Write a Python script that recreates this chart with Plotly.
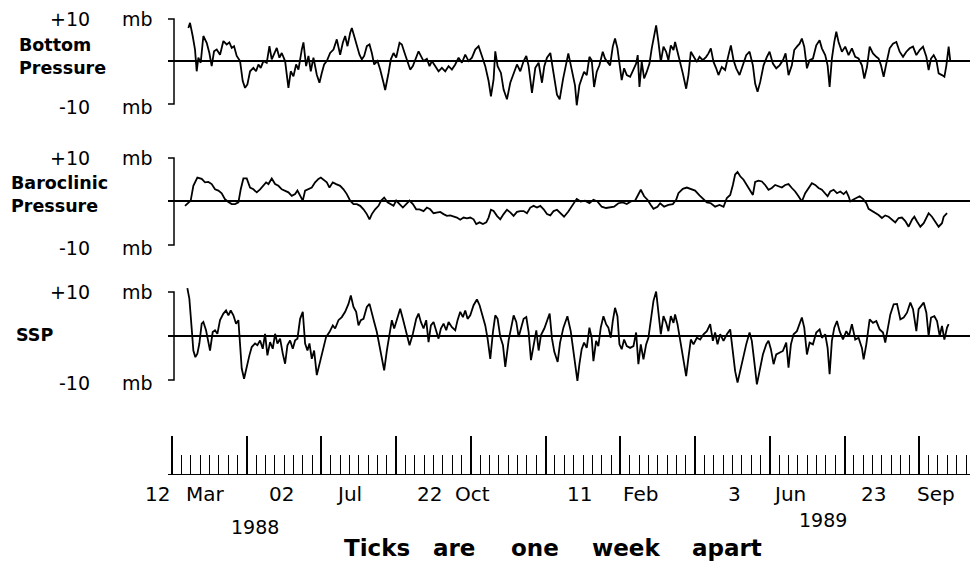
import pandas as pd
import plotly.graph_objects as go

# ---------------- data (days since START, values in mb) ----------------
START = "1988-03-12"

BOTTOM_DAYS = [
    12.25, 13.5, 15.5, 17.25, 18.5, 19.75, 21.5, 23.5, 26, 28,
    29.75, 31.5, 33.5, 36, 38.5, 41, 43, 44.75, 46.5, 48.5,
    51, 53, 54.75, 56.5, 58.5, 61, 63, 64.75, 66.5, 68.5,
    71, 73, 74.75, 76.5, 78.5, 80.5, 82.25, 84.75, 87.25, 89,
    91, 93, 94.75, 97.25, 98.5, 100.5, 102.25, 104, 106, 108.5,
    110.5, 112.25, 114, 116, 118.5, 121, 123.5, 126, 128, 129.75,
    131.5, 133.5, 134.75, 136.5, 138.5, 140.5, 142.25, 144, 146, 148,
    149.75, 151.5, 154, 156, 158.5, 159.75, 162.25, 164, 166, 168,
    170.5, 172.25, 174.75, 176.5, 178.5, 180.5, 182.25, 184.75, 186.5, 188.5,
    191, 193, 194.75, 197.25, 199.75, 202.25, 204.75, 207.25, 209.75, 212.25,
    214.75, 217.25, 219.75, 222.25, 224.75, 227.25, 229.75, 232.25, 234.75, 237.25,
    239, 241, 242.25, 244, 246.5, 248.5, 251, 253.5, 256, 258.5,
    261, 263.5, 265.5, 267.25, 269.75, 272.25, 274.75, 277.25, 279, 281,
    283.5, 286, 288.5, 290.5, 293,
    297, 299.5, 302, 303.3, 305.3, 307, 308.8, 310.8, 312.8, 314.5,
    316.3, 318.3, 320.3, 322.8, 324.5, 326.3, 328.3, 330.3, 332, 333.8,
    335.8, 337, 338.8, 340.8, 343.3, 345.8, 347.8, 349, 350.3, 352,
    353.8, 355.8, 357.8, 359.5, 361.3, 362.8, 364.5, 366.3, 368.3, 370.3,
    372, 373.8, 375.8, 377, 378.8, 380.8, 382.8, 385.3, 387, 388.8,
    390.8, 393.3, 395.3, 397.8, 400.3, 402, 403.8, 405.8, 407.8, 409.5,
    412, 414.5, 417, 418.8, 420.8, 422.8, 425.3, 427.8, 430.3, 432.8,
    435.3, 437, 438.8, 440.8, 443.3, 445.8, 447.8, 450.3, 452.8, 455.3,
    457.8, 459.8, 462, 464.5, 466.3, 468.3, 470.3, 472, 473.8, 475.8,
    477.8, 480.3, 482.8, 485.3, 487, 489.5, 491.3, 492.8, 494.5, 496.3,
    497.8, 499.5, 502, 504.5, 507, 509.5, 512, 514.5, 517, 518.8,
    520.8, 522.8, 525.3, 527.8, 529.5, 531.3, 533.3, 535.3, 537.8, 540.3,
    542.8, 545.3, 547.8, 550.3, 552.8, 555.3, 557.8, 560.3, 562.8, 565.3,
    567, 568.8, 570.8, 572.8, 574.5, 577, 578.8, 580.3, 582, 583.3,
]
BOTTOM_MB = [
    7.9, 9.1, 6.0, 2.8, -2.3, 0.9, -0.3, 6.0, 4.4, 2.0,
    -1.1, 2.4, 2.8, 1.6, 4.8, 4.0, 4.5, 3.2, 3.6, 1.3,
    0.1, -4.6, -6.2, -5.4, -2.3, -1.5, -2.3, -0.7, -1.5, 0.1,
    -0.3, 3.6, 0.5, 1.6, 3.2, 0.9, 2.0, 0.1, -6.2, -2.3,
    -3.5, -0.7, -1.9, 2.8, 4.5, -1.1, 1.3, -2.3, 0.9, -3.1,
    -5.0, -2.7, -0.7, 0.1, 2.0, 2.8, 5.2, 1.6, 4.4, 6.0,
    3.6, 6.7, 7.9, 6.0, 4.0, 1.6, 0.5, 1.3, 3.6, 4.0,
    2.0, -0.7, 0.1, -1.9, -5.0, -6.7, -2.7, 0.5, 2.0, 0.9,
    4.4, 4.0, 1.6, -0.3, -1.9, -1.1, 0.5, 2.4, 1.3, 0.1,
    0.6, -1.1, 0.1, -1.1, -2.3, -1.5, -2.3, -1.1, -1.9, -0.7,
    0.9, -0.3, 1.6, 0.1, 0.9, 2.8, 3.6, 1.3, -1.1, -4.6,
    -8.2, -4.2, 2.4, -1.1, -2.7, -6.6, -8.9, -5.0, -2.7, -0.7,
    -2.3, 0.1, 1.3, -1.1, -7.4, -1.5, -0.3, -5.0, -1.1, 0.9,
    2.0, -3.5, -7.8, -8.9, -4.2,
    1.9, -1.6, -5.6, -10.3, -5.6, -4.0, -2.4, -3.2, 1.1, 0.3,
    -6.0, -2.4, -0.9, 2.3, 0.7, -0.1, -0.9, 3.5, 5.4, 3.1,
    -0.9, -4.4, -1.6, -3.2, -3.6, -2.0, -0.5, 1.5, -6.0, -0.1,
    -4.0, -2.4, -0.5, 3.1, 6.6, 8.5, 4.6, -0.1, 3.5, 2.3,
    0.3, 3.8, 2.7, 4.6, 2.3, -0.1, -2.8, -6.4, -3.2, 2.3,
    1.1, -0.1, 1.1, 0.3, 1.1, 1.9, 3.1, -0.1, -1.6, -3.2,
    -1.3, -2.0, 1.5, 3.8, 0.3, -1.6, -3.2, -0.9, 1.5, 2.3,
    -0.9, -5.2, -7.1, -4.8, -0.9, 1.1, 2.3, -0.5, -1.6, -0.9,
    0.3, 1.9, -3.2, -0.9, 2.7, 3.5, 4.2, 5.4, 3.5, -1.6,
    0.3, 0.7, 3.8, 5.0, 3.1, 1.5, -0.9, -6.0, 0.7, 4.6,
    7.0, 4.6, 2.3, 3.5, 1.5, 3.1, 1.1, 0.7, -0.9, -4.0,
    -1.3, 3.5, 1.9, 1.1, 0.7, -0.9, -3.6, -0.5, 3.1, 4.2,
    4.6, 2.3, 1.1, 2.3, 3.1, 3.5, 1.5, 2.7, 3.5, 1.1,
    -2.0, 0.7, 1.5, 0.3, -2.8, -3.2, -3.6, -0.9, 3.5, -0.1,
]

BAROCLINIC_DAYS = [
    9.75, 12.25, 14, 16, 19, 22.25, 24.75, 27.25, 29.75, 32.25,
    34.75, 37.25, 39.75, 42.25, 44.75, 47.25, 49.75, 51.5, 53.5, 56,
    58.5, 61, 63.5, 66, 68.5, 70.5, 72.25, 74.75, 77.25, 79.75,
    82.25, 84.75, 87.25, 89.75, 92.25, 94, 96, 98, 99.75, 102.25,
    104.75, 107.25, 109.75, 111.5, 114, 116, 118, 120.5, 123, 126,
    128.5, 131, 133.5, 136, 138.5, 141, 143.5, 146, 148, 149.75,
    152.25, 154.75, 156.75, 159, 161.5, 164, 166, 168, 170.5, 173,
    175.5, 178, 180.5, 183, 185.5, 188.5, 191, 193.5, 196, 198.5,
    201, 203.5, 206, 208.5, 211, 213.5, 216, 218.5, 221, 223.5,
    226, 228, 230.5, 233, 235.5, 237.25, 239, 241, 243.5, 246,
    248.5, 251, 253.5, 256, 258.5, 261, 263.5, 266, 268.5, 271,
    273.5, 276, 278.5, 281, 283.5, 286, 288.5,
    290.8, 293.8, 297, 300.3, 303.3, 306.3, 309.5, 312.8, 315.8, 318.8,
    322, 325.3, 328.3, 331.3, 334.5, 337.8, 340.8, 343.8, 347, 349.5,
    351.3, 353.8, 356.3, 358.8, 360.8, 363.8, 365.8, 368.8, 372, 375.3,
    377.8, 379.5, 382.8, 385.8, 388.8, 392, 395.3, 398.3, 400.8, 403.8,
    407, 410.3, 413.3, 415.8, 418.3, 420.3, 422, 423.8, 425.8, 428.3,
    430.8, 433.3, 435.3, 437, 439.5, 442, 444.5, 447, 449.5, 452,
    454.5, 457, 459.5, 462, 464.5, 467, 469.5, 472, 474.5, 477,
    479.5, 482, 484.5, 487, 489.5, 491.3, 493.3, 495.8, 498.3, 500.8,
    503.3, 505.3, 507, 508.3, 510.3, 512.8, 515.3, 517.8, 520.3, 522,
    524.5, 527, 529.5, 532, 534.5, 537, 539.5, 542, 544.5, 547,
    549.5, 552, 554.5, 556.3, 558.3, 560.8, 563.3, 565.3, 567, 569.5,
    572, 574.5, 577, 578.3, 580.8,
]
BAROCLINIC_MB = [
    -1.0, -0.2, 0.2, 3.6, 5.5, 5.2, 4.4, 4.5, 4.0, 2.8,
    2.5, 1.9, 0.5, -0.1, -0.6, -0.6, -0.2, 2.8, 5.3, 5.3,
    3.2, 2.8, 2.1, 2.8, 3.6, 4.4, 4.0, 5.3, 4.0, 3.6,
    2.8, 2.5, 2.1, 1.3, 1.7, 2.5, 1.2, 0.2, 2.5, 2.8,
    3.2, 4.4, 5.2, 5.5, 4.8, 4.4, 3.2, 4.4, 4.0, 3.6,
    2.8, 1.7, 0.2, -0.6, -0.6, -1.0, -1.8, -2.9, -4.1, -2.9,
    -1.8, -1.0, 0.2, 0.9, -0.2, -0.6, -1.0, 0.2, -0.6, -1.4,
    -0.6, 0.2, -0.6, -1.8, -1.8, -2.2, -1.4, -1.8, -2.7, -2.5,
    -2.4, -2.9, -3.3, -3.2, -3.5, -3.7, -4.2, -3.7, -3.9, -3.7,
    -4.1, -5.2, -4.8, -5.2, -4.8, -3.7, -1.9, -2.2, -3.3, -4.1,
    -2.9, -1.9, -2.5, -3.3, -2.4, -2.2, -2.2, -2.7, -1.4, -1.0,
    -1.4, -1.0, -1.8, -2.9, -3.2, -2.2, -1.9,
    -2.5, -3.5, -2.3, -0.8, 0.6, 0.0, 0.2, -0.4, 0.4, 0.0,
    -1.2, -1.5, -1.4, -1.2, -0.4, -0.2, -0.6, 0.0, 0.2, 1.5,
    2.7, 1.2, 0.4, -0.8, -1.7, -1.2, -0.4, -1.2, -0.8, -0.6,
    0.4, 1.9, 2.9, 3.2, 2.9, 2.5, 1.4, 0.6, -0.2, -0.4,
    -1.2, -0.8, -1.2, 0.8, 1.5, 3.8, 6.2, 6.8, 5.8, 5.0,
    3.8, 2.3, 1.5, 4.5, 4.8, 4.6, 3.8, 2.7, 3.1, 3.8,
    3.5, 3.2, 3.8, 4.0, 3.1, 2.3, 1.2, 0.0, 1.9, 3.1,
    4.2, 3.8, 3.1, 2.7, 1.9, 1.2, 2.3, 2.7, 1.9, 2.3,
    1.7, 2.3, 1.2, 0.0, 0.4, 0.8, 1.2, 0.6, -0.4, -1.7,
    -2.2, -2.5, -3.1, -3.8, -3.2, -3.5, -4.2, -4.8, -3.8, -3.7,
    -4.5, -5.8, -4.2, -3.5, -4.6, -5.8, -5.0, -3.8, -2.7, -3.5,
    -4.6, -5.8, -5.0, -3.5, -2.7,
]

SSP_DAYS = [
    11.5, 13, 14.75, 16, 17.5, 19, 20.5, 22.25, 23.5, 25.5,
    27.25, 28.5, 30.5, 32.25, 34, 36, 38.5, 40.5, 42.25, 44,
    46, 48, 49.75, 51, 52.25, 54, 56, 58, 59.75, 62.25,
    64, 66, 68, 69.75, 71.5, 73.5, 75.5, 77.25, 79, 81,
    83, 84.75, 86.5, 88.5, 90.5, 92.25, 94, 96, 98, 99.75,
    101.5, 103, 104.75, 106.5, 108.5, 110.5, 113, 115.5, 118, 120.5,
    122.25, 124.75, 127.25, 129.75, 132.25, 134, 136, 138, 139.75, 141.5,
    143.5, 146, 148, 149.75, 151.5, 153.5, 155.5, 157.25, 159, 161,
    163, 164.75, 166.5, 168.5, 171, 173, 174.75, 176.5, 178, 180.5,
    183, 184.75, 186.5, 188.5, 190.5, 192.25, 194, 196, 198, 199.75,
    201.5, 203.5, 205.5, 207.25, 209.75, 212.25, 214, 216, 218, 219.75,
    221.5, 223.5, 226, 228.5, 230.5, 233, 234.75, 236.5, 238.5, 240.5,
    242.25, 244, 246, 248, 249.75, 252.25, 254, 256, 258, 259.75,
    261.5, 263.5, 265.5, 267.25, 269, 271, 273, 274.75, 276.5, 279,
    281, 283, 284.75, 286.5, 289,
    290.8, 293.3, 296.3, 298.8, 300.8, 302.5, 303.8, 305.3, 307, 308.8,
    310.8, 312.8, 314.5, 315.8, 317.8, 319.5, 321.3, 323.3, 325.3, 327,
    328.8, 330.3, 332, 333.8, 335.3, 337, 338.8, 340.8, 343.3, 345.8,
    347.8, 349.5, 351.3, 353.3, 355.3, 357, 358.8, 360.8, 362.8, 364.5,
    366.3, 368.3, 370.3, 372, 373.8, 375.8, 377, 378.8, 380.8, 382.8,
    385.3, 387, 388.8, 390.8, 393.3, 395.8, 398.3, 400.8, 403.3, 405.3,
    407, 408.8, 410.8, 413.3, 415.8, 418.3, 420.3, 422, 423.8, 425.8,
    427.8, 430.3, 432.8, 434.5, 436.3, 438.3, 440.3, 442.8, 445.3, 447,
    448.8, 450.8, 452.8, 455.3, 457.8, 460.3, 462, 463.8, 465.8, 468.3,
    470.3, 472, 473.8, 475.8, 477.8, 480.3, 482.8, 485.3, 487, 489.5,
    491.3, 492.8, 494.5, 496.3, 498.3, 500.3, 502.8, 505.3, 507.3, 509.5,
    512, 514.5, 517, 518.3, 520.3, 522.8, 525.3, 527.8, 530.3, 532.8,
    534.5, 536.3, 538.3, 540.8, 543.3, 545.8, 548.3, 550.8, 553.3, 555.3,
    557.8, 559.5, 561.3, 563.3, 565.3, 567, 568.8, 571.3, 573.3, 575.3,
    577, 578.8, 580.8, 582,
]
SSP_MB = [
    10.9, 8.5, 1.7, -3.3, -4.8, -4.0, -1.7, 2.8, 3.2, 1.3,
    -1.4, -3.3, 0.9, 1.3, 0.5, 3.6, 5.1, 5.8, 4.7, 5.8,
    4.7, 2.8, 3.6, -1.4, -7.4, -9.7, -6.7, -4.4, -2.5, -1.7,
    -2.1, -1.0, -2.9, 0.5, -4.4, -1.4, -2.9, 0.5, -1.7, -0.6,
    -4.0, -6.3, -2.1, -1.0, -2.9, -1.0, -0.6, 3.9, 5.5, -1.7,
    -3.3, -1.7, -5.2, -3.3, -8.9, -6.3, -3.3, -0.2, 0.9, 2.4,
    1.7, 3.6, 4.3, 5.5, 7.3, 9.2, 6.6, 5.5, 2.4, 3.6,
    3.9, 6.6, 7.3, 5.5, 3.2, 0.9, -2.1, -5.5, -7.8, -3.3,
    0.9, 3.6, 1.7, 3.9, 6.2, 3.9, 1.7, -0.6, -2.1, 0.5,
    3.9, 5.1, 3.2, 1.7, 3.6, -1.4, 2.4, 3.2, 0.9, -0.6,
    1.7, 2.8, 1.3, 3.2, 2.0, 1.3, 3.6, 5.5, 4.3, 5.8,
    3.9, 4.7, 7.0, 8.3, 7.0, 4.3, 2.4, -0.6, -5.2, 0.9,
    4.7, 3.9, -0.2, -2.1, -7.0, -1.0, 1.7, 4.7, 3.2, -0.2,
    1.7, 3.9, 4.3, 0.9, -5.5, -1.7, 1.3, -3.3, 0.2, 1.7,
    3.2, 5.1, -0.6, -3.6, -5.9,
    -1.5, 1.9, 4.5, 1.1, -3.4, -8.0, -10.2, -6.4, -3.0, -1.5,
    -2.7, 1.9, -0.4, -5.7, -1.1, -2.3, 1.9, 4.5, 2.7, 1.9,
    -0.4, 3.4, 6.4, 4.5, -1.9, -3.0, -0.8, -2.3, -2.7, -2.3,
    0.8, -6.4, -1.9, -5.3, -1.9, -0.4, 4.2, 8.0, 10.1, 5.7,
    0.4, 4.5, 3.0, 1.1, 4.5, 3.0, 4.9, 2.7, -1.1, -4.5,
    -9.1, -4.9, -0.8, -1.9, -0.4, -0.8, 0.4, 1.1, 2.7, -1.1,
    0.8, -1.9, 0.4, -1.1, 0.4, 1.5, -3.4, -8.0, -10.6, -8.0,
    -4.9, -1.9, 0.8, -1.1, -5.7, -11.0, -8.0, -4.2, -1.9, -1.1,
    -3.0, -6.4, -4.2, -3.8, -3.4, -1.5, -7.2, -1.9, 0.4, 1.1,
    2.7, 4.2, 1.9, -4.2, -1.5, -1.9, 0.8, 1.5, -0.4, 0.4,
    -2.7, -8.7, -1.1, 1.9, 3.4, 1.1, -0.8, 1.1, 0.0, 2.7,
    -0.8, -0.4, -2.7, -5.3, -1.9, 3.8, 3.0, 3.4, 1.5, 0.8,
    -1.5, 1.9, 4.9, 7.2, 7.3, 3.8, 4.2, 5.3, 7.6, 6.1,
    1.1, 6.1, 6.8, 7.6, 5.3, 0.0, 4.2, 4.5, 3.4, 0.0,
    2.3, -0.8, 1.9, 2.7,
]

PANEL_LABELS = [["Bottom", "Pressure"], ["Baroclinic", "Pressure"], ["SSP"]]
Y_TICKS = [10, -10]
Y_TICK_TEXT = ["+10", "-10"]
UNIT = "mb"
DATE_LABEL_DATES = ["1988-03-12", "1988-07-02", "1988-10-22",
                    "1989-02-11", "1989-06-03", "1989-09-23"]
DATE_LABEL_DAY = ["12", "02", "22", "11", "3", "23"]
DATE_LABEL_MONTH = ["Mar", "Jul", "Oct", "Feb", "Jun", "Sep"]
YEARS = ["1988", "1989"]
CAPTION_WORDS = ["Ticks", "are", "one", "week", "apart"]

# ---------------- layout helpers ----------------
W, H = 976, 567
FONT = "DejaVu Sans"


def px(xp):
    return xp / W


def py(yp):
    return 1 - yp / H


def to_dates(days):
    return pd.Timestamp(START) + pd.to_timedelta(days, unit="D")


X_DOMAIN = [px(168), px(970)]
X_RANGE = ["1988-03-09", "1989-10-31"]
Y_RANGE = [-12, 12]
PANEL_DOMAINS = [[0.8016, 0.9815], [0.5526, 0.7367], [0.3143, 0.5005]]

series = [(BOTTOM_DAYS, BOTTOM_MB), (BAROCLINIC_DAYS, BAROCLINIC_MB), (SSP_DAYS, SSP_MB)]

fig = go.Figure()
for i, (days, vals) in enumerate(series):
    n = min(len(days), len(vals))
    suffix = "" if i == 0 else str(i + 1)
    fig.add_trace(go.Scatter(
        x=to_dates(days[:n]), y=vals[:n], mode="lines",
        line=dict(color="black", width=1.8),
        xaxis="x" + suffix, yaxis="y" + suffix,
        showlegend=False, hoverinfo="skip"))

layout = dict(
    width=W, height=H,
    margin=dict(l=0, r=0, t=0, b=0),
    paper_bgcolor="white", plot_bgcolor="white",
    font=dict(family=FONT, color="black"),
    showlegend=False,
)

for i in range(3):
    suffix = "" if i == 0 else str(i + 1)
    layout["xaxis" + suffix] = dict(
        domain=X_DOMAIN, range=X_RANGE, type="date", visible=False,
        anchor="y" + suffix)
    layout["yaxis" + suffix] = dict(
        domain=PANEL_DOMAINS[i], range=Y_RANGE, anchor="x" + suffix,
        showgrid=False, showticklabels=False, ticks="", showline=False,
        zeroline=True, zerolinecolor="black", zerolinewidth=1.5)

week_ms = 7 * 86400000
layout["xaxis4"] = dict(
    domain=X_DOMAIN, range=X_RANGE, type="date", anchor="y4",
    showline=True, linecolor="black", linewidth=1,
    ticks="inside", ticklen=38, tickwidth=1.5, tickcolor="black",
    tick0=START, dtick=8 * week_ms, showticklabels=False,
    showgrid=False, zeroline=False,
    minor=dict(ticks="inside", ticklen=19, tickwidth=1, tickcolor="black",
               tick0=START, dtick=week_ms, showgrid=False),
)
layout["yaxis4"] = dict(domain=[py(474), py(420)], range=[0, 1], visible=False,
                        anchor="x4")

shapes = []
x0 = px(174)
dx = px(6)
for i in range(3):
    yref = "y" if i == 0 else "y" + str(i + 1)
    shapes.append(dict(
        type="path", xref="paper", yref=yref,
        path=f"M {x0 - dx},{Y_TICKS[0]} L {x0},{Y_TICKS[0]} L {x0},{Y_TICKS[1]} L {x0 - dx},{Y_TICKS[1]}",
        line=dict(color="black", width=1.5)))
layout["shapes"] = shapes

ann = []
# y-axis value labels
for i in range(3):
    yref = "y" if i == 0 else "y" + str(i + 1)
    for val, txt, ysh in zip(Y_TICKS, Y_TICK_TEXT, [0, -3]):
        ann.append(dict(text=txt, xref="paper", yref=yref, x=px(92), y=val,
                        xanchor="right", yanchor="middle", yshift=ysh,
                        showarrow=False, font=dict(size=19, family=FONT)))
        ann.append(dict(text=UNIT, xref="paper", yref=yref, x=px(120), y=val,
                        xanchor="left", yanchor="middle", yshift=ysh,
                        showarrow=False, font=dict(size=19, family=FONT)))

# panel names (multi-line labels kept as one text block)
name_pos = [(18, 57), (10, 194), (15, 335)]
for labels, (xp, yp) in zip(PANEL_LABELS, name_pos):
    ann.append(dict(text="<br>".join("<b>" + lab + "</b>" for lab in labels),
                    xref="paper", yref="paper", x=px(xp), y=py(yp),
                    xanchor="left", yanchor="middle", align="left",
                    borderpad=0, showarrow=False,
                    font=dict(size=17.5, family=FONT)))

# date labels under the week ruler
day_shift = [0, -25, -27, -26, -27, -31]
mon_shift = [12, 13, -18, 1, 1, -4]
for d, dd, mm, s1, s2 in zip(DATE_LABEL_DATES, DATE_LABEL_DAY, DATE_LABEL_MONTH,
                              day_shift, mon_shift):
    ann.append(dict(text=dd, xref="x4", yref="paper", x=d, y=py(494),
                    xanchor="right", yanchor="middle", xshift=s1,
                    showarrow=False, font=dict(size=20, family=FONT)))
    ann.append(dict(text=mm, xref="x4", yref="paper", x=d, y=py(494),
                    xanchor="left", yanchor="middle", xshift=s2,
                    showarrow=False, font=dict(size=20, family=FONT)))

for yr, (xp, yp) in zip(YEARS, [(255, 527), (823, 520)]):
    ann.append(dict(text=yr, xref="paper", yref="paper", x=px(xp), y=py(yp),
                    xanchor="center", yanchor="middle", showarrow=False,
                    font=dict(size=19, family=FONT)))

for w, xp in zip(CAPTION_WORDS, [377, 454, 535, 626, 727]):
    ann.append(dict(text="<b>" + w + "</b>", xref="paper", yref="paper",
                    x=px(xp), y=py(548), xanchor="center", yanchor="middle",
                    showarrow=False, font=dict(size=23, family=FONT)))

layout["annotations"] = ann
fig.update_layout(**layout)
fig.write_html(
    "out.html",
    config={"displayModeBar": False},
    post_script="document.body.style.margin='0px';document.body.style.padding='0px';",
)
